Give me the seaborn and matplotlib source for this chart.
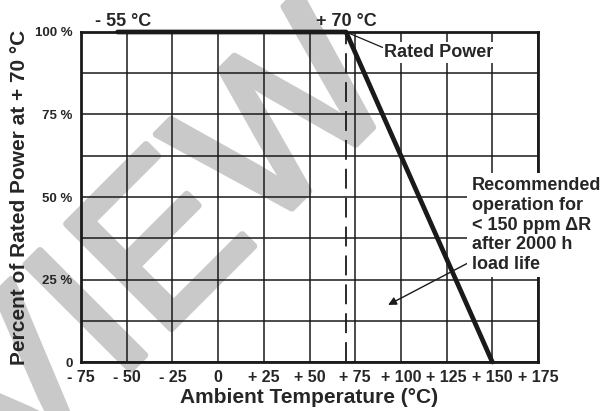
import matplotlib
matplotlib.use("Agg")
import matplotlib.pyplot as plt
import matplotlib.patheffects as pe
import seaborn as sns

# derating curve
temp_c = [-55, 70, 150]
power_pct = [100, 100, 0]

x_ticks = [-75, -50, -25, 0, 25, 50, 75, 100, 125, 150, 175]
x_labels = ["- 75", "- 50", "- 25", "0", "+ 25", "+ 50", "+ 75",
            "+ 100", "+ 125", "+ 150", "+ 175"]
y_ticks = [0, 12.5, 25, 37.5, 50, 62.5, 75, 87.5, 100]
y_labels = ["0", "", "25 %", "", "50 %", "", "75 %", "", "100 %"]

rated_temp = 70
note_text = "Recommended\noperation for\n< 150 ppm \u0394R\nafter 2000 h\nload life"

sns.set_style("white")
plt.rcParams["font.family"] = ["Liberation Sans", "DejaVu Sans"]
plt.rcParams["font.weight"] = "bold"

fig = plt.figure(figsize=(6.05, 4.11), dpi=100, facecolor="white")
ax = fig.add_axes([81 / 605, 49 / 411, 457 / 605, 330 / 411])
ax.set_facecolor("none")

# watermark behind the chart
wm_color = "#c9c9c9"
fig.text(-0.4926, -0.9416, "PREVIEW", rotation=45, rotation_mode="anchor",
         ha="left", va="baseline", fontsize=155, fontweight="normal",
         color=wm_color, zorder=-1,
         path_effects=[pe.withStroke(linewidth=5, foreground=wm_color)])

ax.set_xlim(-75, 175)
ax.set_ylim(0, 100)
ax.set_xticks(x_ticks)
ax.set_xticklabels(x_labels, fontsize=11.5, fontweight="bold")
ax.set_yticks(y_ticks)
ax.set_yticklabels(y_labels, fontsize=9.5, fontweight="bold")
ax.tick_params(length=0, pad=6)
ax.grid(True, color="#1a1a1a", lw=1.1)
ax.set_axisbelow(True)
for s in ax.spines.values():
    s.set_visible(True)
    s.set_linewidth(2)
    s.set_color("#1a1a1a")

ax.axvline(rated_temp, ymin=0, ymax=1, color="#1a1a1a", lw=1.3,
           dashes=(11, 5), zorder=2)

sns.lineplot(x=temp_c, y=power_pct, ax=ax, sort=False, estimator=None,
             color="#1a1a1a", lw=3.4, clip_on=False, zorder=4)

ax.set_xlabel("Ambient Temperature (\u00b0C)", fontsize=15, fontweight="bold", labelpad=2)
ax.set_ylabel("Percent of Rated Power at + 70 \u00b0C", fontsize=15, fontweight="bold", labelpad=4)

ax.text(-52, 101.8, "- 55 \u00b0C", ha="center", va="baseline", fontsize=13, fontweight="bold")
ax.text(70, 101.8, "+ 70 \u00b0C", ha="center", va="baseline", fontsize=13, fontweight="bold")

ax.annotate("Rated Power", xy=(rated_temp, 100), xytext=(91, 93.8),
            ha="left", va="center", fontsize=13, fontweight="bold",
            bbox=dict(boxstyle="square,pad=0.1", fc="white", ec="none"),
            arrowprops=dict(arrowstyle="-", lw=0.9, color="#1a1a1a",
                            relpos=(0, 0.75), shrinkA=0, shrinkB=0),
            zorder=5)

ax.annotate("", xy=(93, 17.3), xytext=(136.7, 30),
            arrowprops=dict(arrowstyle="-|>", lw=1.0, color="#1a1a1a",
                            mutation_scale=12, shrinkA=0, shrinkB=0),
            zorder=5)
ax.text(138.9, 41.5, note_text, ha="left", va="center", fontsize=13,
        fontweight="bold", linespacing=1.2, clip_on=False, zorder=6,
        bbox=dict(boxstyle="square,pad=0.25", fc="white", ec="none"))

fig.savefig("out.png", dpi=100)
